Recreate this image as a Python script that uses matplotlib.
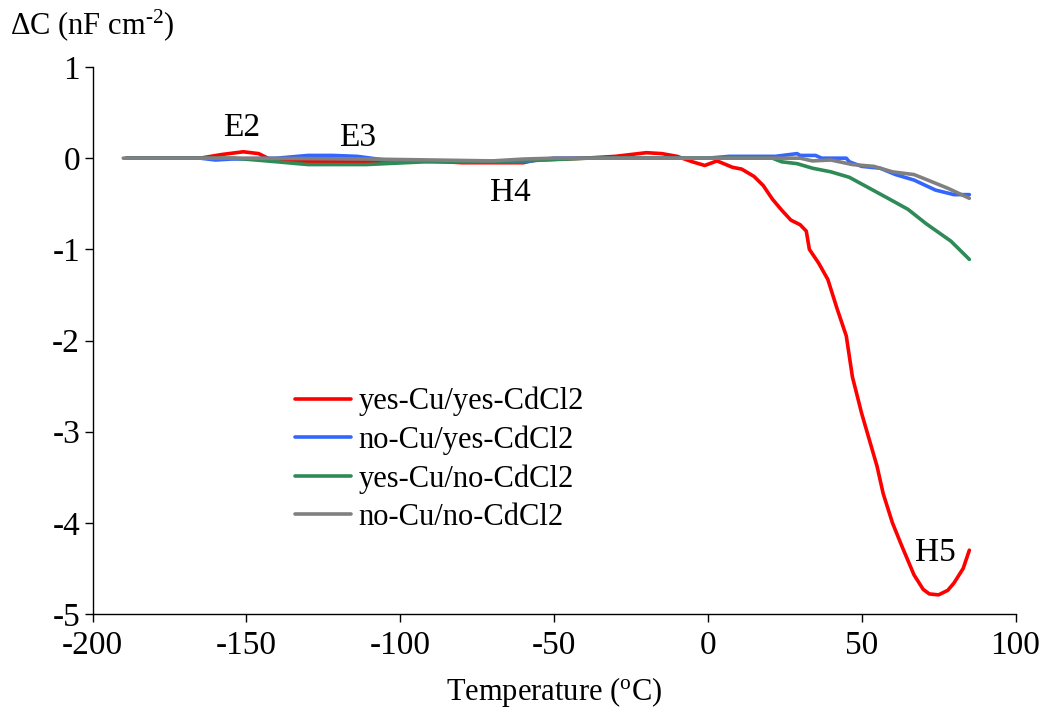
import matplotlib
matplotlib.use("Agg")
import matplotlib.pyplot as plt

plt.rcParams['font.family'] = ['Liberation Serif', 'DejaVu Serif']
plt.rcParams['mathtext.fontset'] = 'custom'
plt.rcParams['mathtext.rm'] = 'Liberation Serif'
plt.rcParams['mathtext.it'] = 'Liberation Serif:italic'
plt.rcParams['axes.unicode_minus'] = False

# ---- data ----
red_x = [-189, -165, -158, -151, -146, -143, -140, -125, -111, -105, -90, -80, -60, -56,
         -40, -30, -20, -15, -10, -5, -1, 3, 8, 11, 15, 18, 21, 24, 27, 30, 32, 33, 36, 39,
         42, 45, 47, 50, 55, 57, 60, 63, 67, 70, 72, 75, 78, 80, 83, 85]
red_y = [0, 0, 0.04, 0.07, 0.05, 0.0, -0.03, -0.04, -0.04, -0.03, -0.03, -0.05, -0.05, -0.02,
         0, 0.02, 0.06, 0.05, 0.02, -0.04, -0.08, -0.03, -0.1, -0.12, -0.2, -0.3, -0.45, -0.57,
         -0.68, -0.73, -0.8, -1.0, -1.15, -1.33, -1.65, -1.95, -2.4, -2.8, -3.38, -3.68, -4.0,
         -4.25, -4.57, -4.73, -4.78, -4.79, -4.74, -4.66, -4.5, -4.3]

blue_x = [-189, -165, -160, -155, -140, -130, -122, -114, -105, -87, -60, -50, 0, 7, 22, 29,
          30, 35, 37, 45, 46, 50, 56, 61, 67, 74, 80, 85]
blue_y = [0, 0, -0.02, -0.01, 0, 0.03, 0.03, 0.02, -0.02, -0.04, -0.04, 0, 0, 0.02, 0.02, 0.05,
          0.03, 0.03, 0, 0, -0.04, -0.09, -0.11, -0.18, -0.24, -0.35, -0.40, -0.40]

green_x = [-189, -154, -140, -130, -111, -92, -60, -39, 0, 12, 21, 24, 29, 34, 40, 46, 52,
           58, 65, 71, 79, 85]
green_y = [0, 0, -0.04, -0.07, -0.07, -0.04, -0.03, 0, 0, 0, 0, -0.04, -0.06, -0.11, -0.15,
           -0.21, -0.32, -0.43, -0.56, -0.72, -0.91, -1.11]

gray_x = [-190, -150, -110, -90, -70, -60, -50, 0, 30, 34, 40, 47, 54, 60, 67, 70, 78, 85]
gray_y = [0, 0, -0.01, -0.02, -0.03, -0.01, 0, 0, 0, -0.03, -0.02, -0.07, -0.09, -0.15,
          -0.18, -0.22, -0.33, -0.44]

labels = ['yes-Cu/yes-CdCl2', 'no-Cu/yes-CdCl2', 'yes-Cu/no-CdCl2', 'no-Cu/no-CdCl2']
colors = ['#FF0000', '#3366FF', '#2E8B57', '#808080']

annotations = ['E2', 'E3', 'H4', 'H5']
ann_x = [-151.4, -114, -64.3, 73.8]
ann_y = [0.33, 0.22, -0.38, -4.33]

x_ticks = [-200, -150, -100, -50, 0, 50, 100]
y_ticks = [1, 0, -1, -2, -3, -4, -5]

# ---- figure ----
fig = plt.figure(figsize=(10.42, 7.27), dpi=100)
ax = fig.add_axes([92.5 / 1042, 1 - 614 / 727, 923 / 1042, 547 / 727])

series = [(red_x, red_y), (blue_x, blue_y), (green_x, green_y), (gray_x, gray_y)]
for (xs, ys), lab, c in zip(series, labels, colors):
    ax.plot(xs, ys, color=c, lw=2.6, label=lab, solid_capstyle='round', solid_joinstyle='round')

for t, xx, yy in zip(annotations, ann_x, ann_y):
    ax.text(xx, yy, t, fontsize=24, ha='center', va='center')

ax.set_xlim(-200, 100)
ax.set_ylim(-5, 1)
ax.set_xticks(x_ticks)
ax.set_yticks(y_ticks)
ax.set_xticklabels([str(v) for v in x_ticks])
ax.set_yticklabels([str(v) for v in y_ticks])
ax.tick_params(direction='out', length=6, width=1, labelsize=24)
ax.tick_params(axis='x', pad=6)
ax.tick_params(axis='y', pad=3)
for s in ['top', 'right']:
    ax.spines[s].set_visible(False)
for s in ['left', 'bottom']:
    ax.spines[s].set_linewidth(1)

ax.set_xlabel('Temperature ($^{\\text{o}}$C)', fontsize=22, labelpad=10)
fig.text(10 / 1042, 1 - 25 / 727, '\u0394C (nF cm$^{\\text{-2}}$)', fontsize=22,
         ha='left', va='center')

leg = ax.legend(loc='upper left', bbox_to_anchor=(0.219, 0.415), frameon=False, fontsize=22,
                handlelength=1.85, handletextpad=0.25, labelspacing=0.3, borderpad=0,
                borderaxespad=0)

fig.savefig('out.png', dpi=100)
